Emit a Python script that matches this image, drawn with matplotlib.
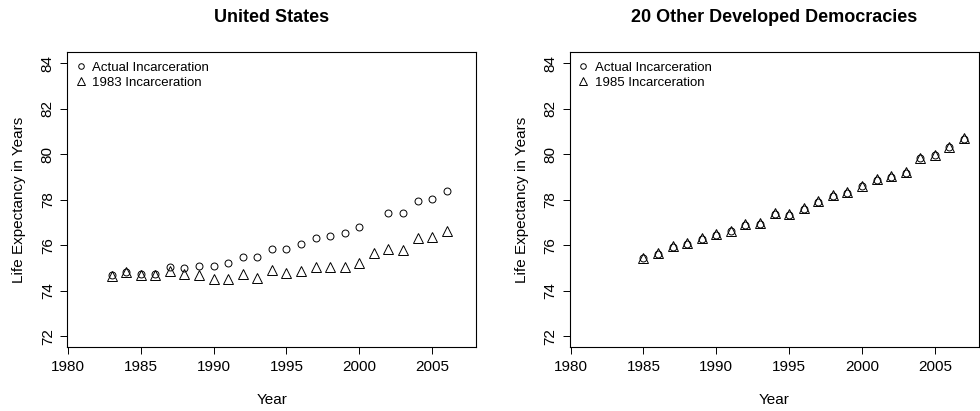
import matplotlib
matplotlib.use('Agg')
import matplotlib.pyplot as plt
import numpy as np

plt.rcParams['font.family'] = ['Liberation Sans', 'DejaVu Sans']

# United States
us_years = np.arange(1983, 2007)
us_actual = [74.67, 74.81, 74.72, 74.74, 75.04, 75.01, 75.09, 75.09, 75.23, 75.48,
             75.48, 75.83, 75.83, 76.07, 76.32, 76.40, 76.54, 76.80, np.nan, 77.42,
             77.42, 77.94, 78.03, 78.38]
us_1983 = [74.64, 74.81, 74.69, 74.70, 74.87, 74.72, 74.67, 74.50, 74.53, 74.72,
           74.57, 74.91, 74.76, 74.87, 75.04, 75.04, 75.04, 75.22, 75.64, 75.85,
           75.79, 76.32, 76.35, 76.60]

# 20 other developed democracies
oth_years = np.arange(1985, 2008)
oth_actual = [75.42, 75.61, 75.93, 76.05, 76.29, 76.45, 76.61, 76.89, 76.95, 77.37,
              77.33, 77.59, 77.90, 78.18, 78.31, 78.59, 78.87, 79.01, 79.18, 79.82,
              79.95, 80.30, 80.66]
oth_1985 = [75.45, 75.64, 75.96, 76.08, 76.32, 76.48, 76.64, 76.92, 76.98, 77.40,
            77.36, 77.62, 77.93, 78.21, 78.34, 78.62, 78.90, 79.04, 79.21, 79.85,
            79.98, 80.33, 80.69]

panels = [
    ('United States', us_years, us_actual, us_1983, '1983 Incarceration', 0.0687),
    ('20 Other Developed Democracies', oth_years, oth_actual, oth_1985, '1985 Incarceration', 0.5816),
]

fig = plt.figure(figsize=(9.8, 4.11), dpi=100)

for title, yrs, act, cf, cf_label, left in panels:
    ax = fig.add_axes([left, 0.1557, 0.4175, 0.717])
    ax.plot(yrs, act, 'o', ms=5, mfc='none', mec='black', mew=0.7,
            label='Actual Incarceration')
    ax.plot(yrs, cf, '^', ms=6.5, mfc='none', mec='black', mew=0.7,
            label=cf_label)
    ax.set_xlim(1979.96, 2008.04)
    ax.set_ylim(71.52, 84.48)
    ax.set_xticks(range(1980, 2006, 5))
    ax.set_yticks(range(72, 85, 2))
    ax.tick_params(direction='out', length=5, width=0.7, labelsize=11, pad=4)
    for lab in ax.get_yticklabels():
        lab.set_rotation(90)
        lab.set_va('center')
    for sp in ax.spines.values():
        sp.set_linewidth(0.8)
    ax.set_xlabel('Year', fontsize=11)
    ax.set_ylabel('Life Expectancy in Years', fontsize=11)
    ax.xaxis.set_label_coords(0.5, -0.18)
    ax.yaxis.set_label_coords(-0.118, 0.5)
    ax.xaxis.label.set_va('center')
    ax.yaxis.label.set_va('center')
    ax.legend(loc='upper left', frameon=False, fontsize=9.5, handlelength=0.6,
              handletextpad=0.6, borderaxespad=0.3, labelspacing=0.2,
              markerscale=0.8)
    fig.text(left + 0.4175 / 2, 1 - 17 / 411, title, ha='center', va='center',
             fontsize=13, fontweight='bold',
             family=['Liberation Sans Narrow', 'Liberation Sans'])

fig.savefig('out.png', dpi=100)
